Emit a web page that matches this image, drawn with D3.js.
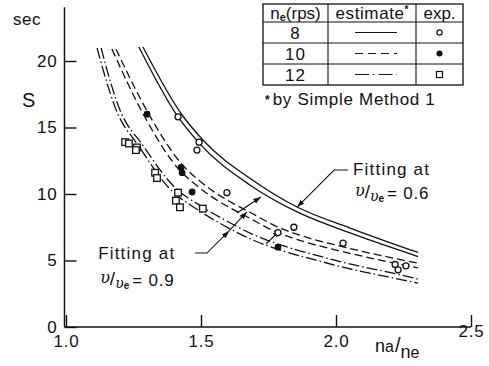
<!DOCTYPE html>
<html><head><meta charset="utf-8">
<script src="https://cdn.jsdelivr.net/npm/d3@7"></script>
<style>
body{margin:0;background:#fff}
svg{display:block}
text{font-family:"Liberation Sans",Arial,sans-serif;fill:#111}
</style>
</head><body>
<svg id="c" width="489" height="366"></svg>
<script>
// ---- data ----
const xTicks = [1.0, 1.5, 2.0, 2.5];
const yTicks = [0, 5, 10, 15, 20];
const rpsLabels = ["8", "10", "12"];

// estimates (Simple Method 1): upper line = fitting at v/ve=0.6, lower = fitting at v/ve=0.9
const est8_fit06 = [[1.285,21.05],[1.430,15.94],[1.507,14.06],[1.696,10.98],[1.856,9.02],[2.052,7.44],[2.304,5.60]];
const est8_fit09 = [[1.270,21.05],[1.415,15.79],[1.493,13.83],[1.681,10.68],[1.856,8.65],[2.052,7.07],[2.304,5.30]];
const est10_fit06 = [[1.185,20.9],[1.304,16.1],[1.433,12.15],[1.497,10.95],[1.553,10.1],[1.614,9.35],[1.688,8.55],[1.781,7.55],[1.898,6.7],[2.022,6.05],[2.207,5.2],[2.304,4.8]];
const est10_fit09 = [[1.170,20.9],[1.289,15.9],[1.418,11.85],[1.483,10.65],[1.539,9.8],[1.600,9.05],[1.674,8.25],[1.767,7.25],[1.884,6.4],[2.008,5.75],[2.193,4.9],[2.304,4.45]];
const est12_fit06 = [[1.130,20.98],[1.170,18.07],[1.195,16.57],[1.287,13.6],[1.398,10.6],[1.503,9.05],[1.597,7.95],[1.688,7.0],[1.837,5.9],[1.936,5.35],[2.059,4.7],[2.207,4.07],[2.304,3.6]];
const est12_fit09 = [[1.115,20.98],[1.156,18.07],[1.181,16.57],[1.273,13.5],[1.384,10.4],[1.489,8.8],[1.583,7.65],[1.674,6.7],[1.823,5.6],[1.922,5.05],[2.045,4.4],[2.193,3.77],[2.304,3.3]];

// experiments
const exp8 = [[1.415,15.8],[1.493,13.9],[1.485,13.3],[1.596,10.1],[1.785,7.1],[1.844,7.5],[2.026,6.3],[2.219,4.7],[2.230,4.3],[2.259,4.6]];
const exp10 = [[1.300,16.0],[1.426,12.0],[1.430,11.6],[1.467,10.15],[1.785,6.0]];
const exp12 = [[1.219,13.9],[1.233,13.8],[1.263,13.5],[1.259,13.3],[1.330,11.6],[1.337,11.2],[1.415,10.1],[1.407,9.5],[1.422,9.0],[1.507,8.9]];

// ---- drawing ----
const svg = d3.select("#c");
const x = d3.scaleLinear().domain([1.0, 2.5]).range([66, 471]);
const y = d3.scaleLinear().domain([0, 20]).range([327, 61]);
const ink = "#111";

svg.append("defs").append("marker")
  .attr("id","arr").attr("viewBox","0 0 10 10").attr("refX",10).attr("refY",5)
  .attr("markerWidth",7).attr("markerHeight",7).attr("orient","auto")
  .append("path").attr("d","M0,1.5L10,5L0,8.5Z").attr("fill",ink);

// axes
const gy = svg.append("g").attr("transform",`translate(${x(1.0)-1.5},0)`)
  .call(d3.axisLeft(y).tickValues(yTicks).tickSize(-12).tickPadding(7).tickFormat(d3.format("d")));
gy.select(".domain").remove();
gy.selectAll("line").attr("stroke",ink).attr("stroke-width",1.4);
gy.selectAll("text").style("font-size","17px").style("letter-spacing","0.8px").attr("fill",ink);

const gx = svg.append("g").attr("transform",`translate(0,${y(0)})`)
  .call(d3.axisBottom(x).tickValues(xTicks).tickSize(-12).tickPadding(8).tickFormat(d3.format(".1f")));
gx.select(".domain").remove();
gx.selectAll("line").attr("stroke",ink).attr("stroke-width",1.4);
gx.selectAll("text").style("font-size","17px").style("letter-spacing","0.8px").attr("fill",ink);
gx.selectAll(".tick").filter(d => d === 2.5).select("text").attr("y", -2);

svg.append("line").attr("x1",x(1.0)-1.5).attr("x2",x(1.0)-1.5).attr("y1",y(0)).attr("y2",y(24.05))
  .attr("stroke",ink).attr("stroke-width",1.5);
svg.append("line").attr("x1",x(1.0)-1.5).attr("x2",x(2.5)).attr("y1",y(0)).attr("y2",y(0))
  .attr("stroke",ink).attr("stroke-width",1.5);

// axis titles
svg.append("text").attr("x",13).attr("y",25).style("font-size","17px").style("letter-spacing","0.5px").text("sec");
svg.append("text").attr("x",22).attr("y",107).style("font-size","20px").text("S");
const xl = svg.append("text").attr("x",375).attr("y",352).style("font-size","18px");
xl.append("tspan").text("n");
xl.append("tspan").style("font-size","16px").text("a");
xl.append("tspan").style("font-size","20px").attr("dx",1).text("/");
xl.append("tspan").attr("dy",6).text("n");
xl.append("tspan").style("font-size","16px").text("e");

// curves
const line = d3.line().x(d => x(d[0])).y(d => y(d[1])).curve(d3.curveMonotoneX);
const curves = [
  {data: est8_fit06, dash: null}, {data: est8_fit09, dash: null},
  {data: est10_fit06, dash: "8,4"}, {data: est10_fit09, dash: "8,4"},
  {data: est12_fit06, dash: "11,3,1.5,3"}, {data: est12_fit09, dash: "11,3,1.5,3"}
];
svg.append("g").selectAll("path").data(curves).join("path")
  .attr("d", d => line(d.data)).attr("fill","none").attr("stroke",ink)
  .attr("stroke-width",1.3).attr("stroke-dasharray", d => d.dash);

// annotations (in data units)
function ann(pts) {
  svg.append("path").attr("d", d3.line()(pts.map(p => [x(p[0]), y(p[1])])))
    .attr("fill","none").attr("stroke",ink).attr("stroke-width",1.1).attr("marker-end","url(#arr)");
}
ann([[2.044,11.80],[1.993,11.80],[1.856,9.02]]);
ann([[1.478,5.56],[1.522,5.56],[1.604,7.22]]);
ann([[1.604,7.22],[1.670,8.65]]);
ann([[1.633,8.57],[1.722,9.77]]);
ann([[1.741,6.24],[1.793,7.29]]);

function fitLabel(xv, yv1, yv2, val) {
  svg.append("text").attr("x", x(xv)).attr("y", y(yv1)).style("font-size","17px").style("letter-spacing","1.2px").text("Fitting at");
  const t = svg.append("text").attr("x", x(xv)+2).attr("y", y(yv2)).style("font-size","17px");
  t.append("tspan").attr("dy",-3).style("font-family","DejaVu Serif").style("font-style","italic").style("font-size","16px").text("υ");
  t.append("tspan").attr("dy",2).style("font-size","19px").text("/");
  t.append("tspan").attr("dy",3).style("font-family","DejaVu Serif").style("font-style","italic").style("font-size","14px").text("υ");
  t.append("tspan").attr("dy",1).style("font-size","10px").style("font-weight","bold").text("e");
  t.append("tspan").attr("dy",-3).attr("dx",3).style("letter-spacing","0.8px").text("= " + val);
}
fitLabel(2.063, 11.43, 9.6, "0.6");
fitLabel(1.119, 5.11, 3.1, "0.9");

// experiment markers
const gm = svg.append("g");
gm.selectAll("circle.o").data(exp8).join("circle").attr("class","o")
  .attr("cx", d => x(d[0])).attr("cy", d => y(d[1])).attr("r",3)
  .attr("fill","#fff").attr("stroke",ink).attr("stroke-width",1.3);
gm.selectAll("circle.f").data(exp10).join("circle").attr("class","f")
  .attr("cx", d => x(d[0])).attr("cy", d => y(d[1])).attr("r",3.4).attr("fill",ink);
gm.selectAll("rect").data(exp12).join("rect")
  .attr("x", d => x(d[0])-3.3).attr("y", d => y(d[1])-3.3).attr("width",6.6).attr("height",6.6)
  .attr("fill","#fff").attr("stroke",ink).attr("stroke-width",1.3);

// legend table
const tb = svg.append("g");
const tl = 263, tr = 463, tt = 4, tbm = 85;
const colX = [tl, 328, 416, tr];
const rowY = [tt, 22, 43, 64, tbm];
tb.append("rect").attr("x",tl).attr("y",tt).attr("width",tr-tl).attr("height",tbm-tt)
  .attr("fill","none").attr("stroke",ink).attr("stroke-width",1.3);
rowY.slice(1,-1).forEach(v => tb.append("line").attr("x1",tl).attr("x2",tr).attr("y1",v).attr("y2",v).attr("stroke",ink).attr("stroke-width",1.1));
colX.slice(1,-1).forEach(v => tb.append("line").attr("x1",v).attr("x2",v).attr("y1",tt).attr("y2",tbm).attr("stroke",ink).attr("stroke-width",1.1));
const h1 = tb.append("text").attr("x",(colX[0]+colX[1])/2).attr("y",19).attr("text-anchor","middle").style("font-size","17px");
h1.append("tspan").text("n");
h1.append("tspan").style("font-size","11px").style("font-weight","bold").attr("dy",2).text("e");
h1.append("tspan").attr("dy",-2).text("(rps)");
const h2 = tb.append("text").attr("x",(colX[1]+colX[2])/2).attr("y",19).attr("text-anchor","middle").style("font-size","17px");
h2.append("tspan").style("letter-spacing","0.6px").text("estimate");
h2.append("tspan").style("font-size","10px").style("font-weight","bold").attr("dy",-6).text("*");
tb.append("text").attr("x",(colX[2]+colX[3])/2).attr("y",19).attr("text-anchor","middle").style("font-size","17px").text("exp.");
const legDash = [null, "8,5", "14,4,1.5,4"];
rpsLabels.forEach((lab, i) => {
  const cy = (rowY[i+1] + rowY[i+2]) / 2;
  tb.append("text").attr("x",(colX[0]+colX[1])/2).attr("y",cy+6).attr("text-anchor","middle").style("font-size","17px").style("letter-spacing","1px").text(lab);
  tb.append("line").attr("x1",355).attr("x2",397).attr("y1",cy).attr("y2",cy)
    .attr("stroke",ink).attr("stroke-width",1.2).attr("stroke-dasharray",legDash[i]);
  const sx = (colX[2]+colX[3])/2;
  if (i === 0) tb.append("circle").attr("cx",sx).attr("cy",cy).attr("r",2.6).attr("fill","#fff").attr("stroke",ink).attr("stroke-width",1.2);
  if (i === 1) tb.append("circle").attr("cx",sx).attr("cy",cy).attr("r",3).attr("fill",ink);
  if (i === 2) tb.append("rect").attr("x",sx-3).attr("y",cy-3).attr("width",6).attr("height",6).attr("fill","#fff").attr("stroke",ink).attr("stroke-width",1.2);
});
const fn = svg.append("text").attr("x",265).attr("y",105).style("font-size","17px");
fn.append("tspan").style("font-size","12px").style("font-weight","bold").attr("dy",-1).text("*");
fn.append("tspan").attr("dy",1).attr("dx",3).style("letter-spacing","0.7px").text("by Simple Method 1");
</script>
</body></html>
